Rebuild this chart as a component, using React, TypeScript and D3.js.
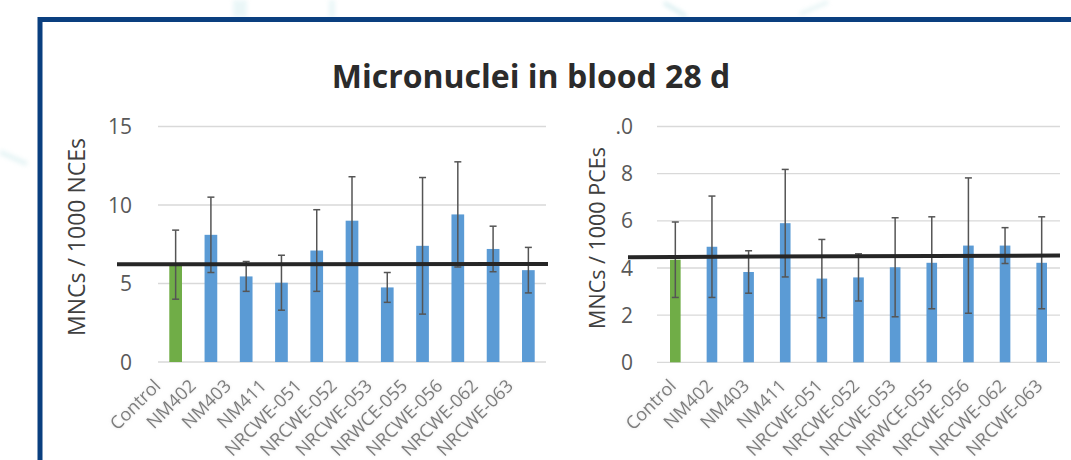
import React from "react";
import * as d3 from "d3";

const categories = ["Control","NM402","NM403","NM411","NRCWE-051","NRCWE-052","NRCWE-053","NRWCE-055","NRCWE-056","NRCWE-062","NRCWE-063"];

const nceMeans = [6.2, 8.1, 5.45, 5.05, 7.1, 9.0, 4.75, 7.4, 9.4, 7.2, 5.85];
const nceErrors = [2.2, 2.4, 0.95, 1.75, 2.6, 2.8, 0.95, 4.35, 3.35, 1.45, 1.45];
const nceRefLine = [6.22, 6.24];
const nceTicks = [0, 5, 10, 15];
const nceTickLabels = ["0", "5", "10", "15"];

const pceMeans = [4.35, 4.9, 3.83, 5.9, 3.55, 3.6, 4.03, 4.22, 4.95, 4.95, 4.22];
const pceErrors = [1.6, 2.15, 0.9, 2.28, 1.66, 1.0, 2.1, 1.95, 2.87, 0.76, 1.95];
const pceRefLine = [4.46, 4.53];
const pceTicks = [0, 2, 4, 6, 8, 10];
const pceTickLabels = ["0", "2", "4", "6", "8", ".0"];

const title = "Micronuclei in blood 28 d";
const nceAxisTitle = "MNCs / 1000 NCEs";
const pceAxisTitle = "MNCs / 1000 PCEs";

const FONT = "'Open Sans', 'Segoe UI', sans-serif";

type PanelProps = {
  means: number[]; errors: number[]; ref: number[]; ticks: number[]; tickLabels: string[];
  yMax: number; x0: number; x1: number; yBottom: number; yTop: number;
  barFrac: number; tickX: number; axisTitle: string; axisX: number; axisY: number; axisSize: number;
  lineX0: number; lineX1: number; labelDx: number; labelY: number; clipX?: number; id: string;
};

function Panel(p: PanelProps) {
  const x = d3.scaleBand<string>().domain(categories).range([p.x0, p.x1]).paddingInner(0).paddingOuter(0);
  const y = d3.scaleLinear().domain([0, p.yMax]).range([p.yBottom, p.yTop]);
  const bw = x.step() * p.barFrac;
  const cx = (c: string) => (x(c) as number) + x.bandwidth() / 2;
  const refLine = d3.line<number>().x((_, i) => (i === 0 ? p.lineX0 : p.lineX1)).y(v => y(v));
  return (
    <g>
      {p.ticks.map((t, i) => (
        <line key={"g" + i} x1={p.x0} x2={p.x1} y1={y(t)} y2={y(t)} stroke="#d9d9d9" strokeWidth={1.3} />
      ))}
      {p.ticks.map((t, i) => (
        <text key={"t" + i} x={p.tickX} y={y(t)} dy="0.36em" textAnchor="end" fontFamily={FONT} fontSize={21} fill="#595959">{p.tickLabels[i]}</text>
      ))}
      <text transform={`translate(${p.axisX},${p.axisY}) rotate(-90)`} textAnchor="middle" dy="0.35em" fontFamily={FONT} fontSize={p.axisSize} fill="#404040">{p.axisTitle}</text>
      {categories.map((c, i) => (
        <rect key={"b" + i} x={cx(c) - bw / 2} y={y(p.means[i])} width={bw} height={y(0) - y(p.means[i])} fill={i === 0 ? "#70ad47" : "#5b9bd5"} />
      ))}
      {categories.map((c, i) => {
        const hi = y(p.means[i] + p.errors[i]);
        const lo = y(p.means[i] - p.errors[i]);
        const xc = cx(c);
        return (
          <g key={"e" + i} stroke="#555555" strokeWidth={1.5}>
            <line x1={xc} x2={xc} y1={hi} y2={lo} />
            <line x1={xc - 3.5} x2={xc + 3.5} y1={hi} y2={hi} />
            <line x1={xc - 3.5} x2={xc + 3.5} y1={lo} y2={lo} />
          </g>
        );
      })}
      <path d={refLine(p.ref) || ""} stroke="#262626" strokeWidth={4} fill="none" />
      <g filter="url(#soft)">
        {categories.map((c, i) => (
          <text key={"l" + i} transform={`translate(${cx(c) + p.labelDx},${p.labelY}) rotate(-45)`} textAnchor="end" fontFamily={FONT} fontSize={18} fill="#7d7d7d">{c}</text>
        ))}
      </g>
    </g>
  );
}

export default function App() {
  return (
    <svg width={1071} height={460} style={{ position: "absolute", left: 0, top: 0, display: "block", background: "#fff" }}>
      <defs>
        <filter id="soft" x="-20%" y="-20%" width="140%" height="140%">
          <feGaussianBlur in="SourceGraphic" stdDeviation="1.8" result="b" />
          <feColorMatrix in="b" type="matrix" values="0 0 0 0 0.6  0 0 0 0 0.6  0 0 0 0 0.6  0 0 0 0.6 0" result="s" />
          <feGaussianBlur in="SourceGraphic" stdDeviation="0.6" result="t" />
          <feMerge><feMergeNode in="s" /><feMergeNode in="t" /></feMerge>
        </filter>
        <filter id="faint"><feGaussianBlur stdDeviation="2" /></filter>
      </defs>
      <g filter="url(#faint)" opacity={0.5}>
        <rect x={233} y={0} width={14} height={17} fill="#d6eef0" />
        <rect x={329} y={0} width={6} height={17} fill="#d6eef0" />
        <line x1={664} y1={3} x2={686} y2={16} stroke="#b8e0e4" strokeWidth={4} />
        <line x1={800} y1={14} x2={828} y2={2} stroke="#cfeaec" strokeWidth={4} />
        <line x1={0} y1={152} x2={27} y2={164} stroke="#cfeaec" strokeWidth={5} />
      </g>
      <rect x={40} y={19.5} width={1100} height={500} fill="#fff" stroke="#0a3f7f" strokeWidth={5} />
      <text x={531} y={88} textAnchor="middle" fontFamily={FONT} fontWeight={700} fontSize={32} fill="#2b2b2b">{title}</text>
      <Panel id="nce" means={nceMeans} errors={nceErrors} ref={nceRefLine} ticks={nceTicks} tickLabels={nceTickLabels}
        yMax={15} x0={158} x1={546} yBottom={362} yTop={126.5} barFrac={0.36} tickX={132}
        axisTitle={nceAxisTitle} axisX={77} axisY={237} axisSize={23} lineX0={117} lineX1={548} labelDx={-14} labelY={387} />
      <Panel id="pce" means={pceMeans} errors={pceErrors} ref={pceRefLine} ticks={pceTicks} tickLabels={pceTickLabels}
        yMax={10} x0={657} x1={1060} yBottom={362.3} yTop={126.5} barFrac={0.29} tickX={633}
        axisTitle={pceAxisTitle} axisX={597} axisY={238} axisSize={21.5} lineX0={628} lineX1={1060} labelDx={2} labelY={387} />
    </svg>
  );
}
